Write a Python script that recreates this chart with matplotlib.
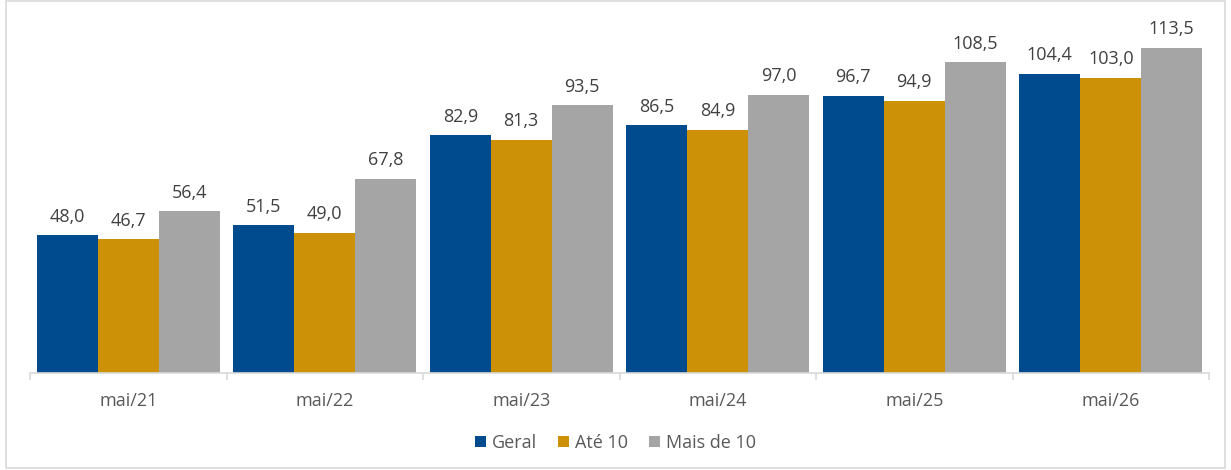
import matplotlib.pyplot as plt
from matplotlib.patches import Rectangle
import numpy as np

categories = ["mai/21", "mai/22", "mai/23", "mai/24", "mai/25", "mai/26"]
series_names = ["Geral", "Até 10", "Mais de 10"]
geral = [48.0, 51.5, 82.9, 86.5, 96.7, 104.4]
ate10 = [46.7, 49.0, 81.3, 84.9, 94.9, 103.0]
mais10 = [56.4, 67.8, 93.5, 97.0, 108.5, 113.5]

colors = ["#004B8D", "#CC9106", "#A5A5A5"]
plt.rcParams["font.family"] = ["Open Sans", "DejaVu Sans"]

fig = plt.figure(figsize=(12.31, 4.70), dpi=100)
ax = fig.add_axes([30 / 1231, 1 - 373 / 470, 1179 / 1231, 344 / 470])

x = np.arange(len(categories))
w = 0.31
for k, (vals, name) in enumerate(zip([geral, ate10, mais10], series_names)):
    bars = ax.bar(x + (k - 1) * w, vals, width=w, color=colors[k], label=name)
    for b, v in zip(bars, vals):
        ax.text(b.get_x() + b.get_width() / 2, v + 3.3, f"{v:.1f}".replace(".", ","),
                ha="center", va="bottom", fontsize=13, color="#404040", clip_on=False)

ax.set_xlim(-0.5, len(categories) - 0.5)
ax.set_ylim(0, 120)
ax.set_yticks([])
ax.set_xticks(x)
ax.set_xticklabels(categories, fontsize=13, color="#595959")
ax.tick_params(axis="x", length=0, pad=14)
ax.set_xticks(np.arange(-0.5, len(categories)), minor=True)
ax.tick_params(axis="x", which="minor", length=5, color="#D9D9D9", width=1.2)
for s in ["top", "right", "left"]:
    ax.spines[s].set_visible(False)
ax.spines["bottom"].set_color("#D9D9D9")
ax.spines["bottom"].set_linewidth(1.2)

leg = fig.legend(loc="center", bbox_to_anchor=(0.5, 1 - 443 / 470), ncol=3, frameon=False,
                 fontsize=13, handlelength=0.6, handleheight=0.6, handletextpad=0.3,
                 columnspacing=1.2)
for t in leg.get_texts():
    t.set_color("#595959")

fig.patches.append(Rectangle((6 / 1231, 2 / 470), 1219 / 1231, 467 / 470, transform=fig.transFigure,
                             fill=False, edgecolor="#D9D9D9", linewidth=1.2))

fig.savefig("out.png", dpi=100)
